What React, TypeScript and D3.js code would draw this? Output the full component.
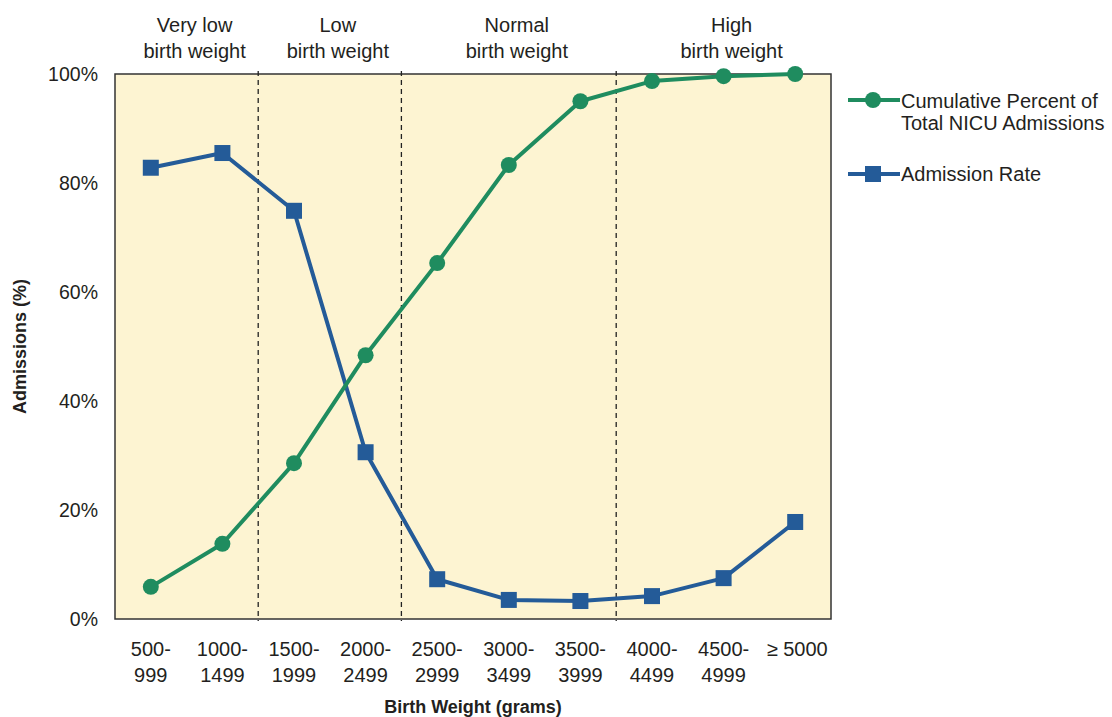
import React from "react";
import * as d3 from "d3";

const categories = ["500-|999", "1000-|1499", "1500-|1999", "2000-|2499", "2500-|2999", "3000-|3499", "3500-|3999", "4000-|4499", "4500-|4999", "≥ 5000"];
const cumulativePercent = [5.9, 13.8, 28.6, 48.4, 65.3, 83.3, 95.0, 98.7, 99.6, 100];
const admissionRate = [82.8, 85.5, 74.9, 30.6, 7.3, 3.5, 3.3, 4.2, 7.5, 17.8];
const yTicks = [0, 20, 40, 60, 80, 100];
const groups = [
  { label: ["Very low", "birth weight"], from: 0, to: 1 },
  { label: ["Low", "birth weight"], from: 2, to: 3 },
  { label: ["Normal", "birth weight"], from: 4, to: 6 },
  { label: ["High", "birth weight"], from: 7, to: 9 },
];

const GREEN = "#1f8c5f";
const BLUE = "#245b98";
const TEXT = "#231f20";
const FONT = "'Liberation Sans', Arial, Helvetica, sans-serif";

export default function App() {
  const W = 1112, H = 717;
  const left = 115, right = 831, top = 74, bottom = 619;
  const x = d3.scaleBand<number>().domain(d3.range(categories.length)).range([left, right]);
  const cx = (i: number) => (x(i) as number) + x.bandwidth() / 2;
  const y = d3.scaleLinear().domain([0, 100]).range([bottom, top]);
  const line = d3.line<number>().x((_, i) => cx(i)).y((d) => y(d));
  const boundaries = groups.slice(1).map((g) => x(g.from) as number);

  return (
    <svg width={W} height={H} style={{ position: "absolute", left: 0, top: 0, fontFamily: FONT }}>
      <rect x={0} y={0} width={W} height={H} fill="#ffffff" />
      <rect x={left} y={top} width={right - left} height={bottom - top} fill="#fdf4d2" stroke="#333" strokeWidth={1.5} />
      {boundaries.map((bx, i) => (
        <line key={i} x1={bx} x2={bx} y1={top - 3} y2={bottom + 2} stroke="#222" strokeWidth={1.3} strokeDasharray="5,4" />
      ))}
      {groups.map((g, i) => {
        const gx = ((x(g.from) as number) + (x(g.to) as number) + x.bandwidth()) / 2 + 8;
        return (
          <text key={i} x={gx} textAnchor="middle" fontSize={20} fill={TEXT}>
            <tspan x={gx} y={32}>{g.label[0]}</tspan>
            <tspan x={gx} y={58}>{g.label[1]}</tspan>
          </text>
        );
      })}
      {yTicks.map((t) => (
        <text key={t} x={98} y={y(t) + 7} textAnchor="end" fontSize={19.5} fill={TEXT}>{t}%</text>
      ))}
      {categories.map((c, i) => {
        const parts = c.split("|");
        return (
          <text key={i} textAnchor="middle" fontSize={20} fill={TEXT}>
            {parts.map((p, j) => (
              <tspan key={j} x={cx(i) + (parts.length === 1 ? 2 : 0)} y={656 + j * 26}>{p}</tspan>
            ))}
          </text>
        );
      })}
      <text x={(left + right) / 2} y={713} textAnchor="middle" fontSize={18} fontWeight="bold" fill={TEXT}>Birth Weight (grams)</text>
      <text transform={`translate(26,${(top + bottom) / 2}) rotate(-90)`} textAnchor="middle" fontSize={18} fontWeight="bold" fill={TEXT}>Admissions (%)</text>

      <path d={line(admissionRate) || ""} fill="none" stroke={BLUE} strokeWidth={4} strokeLinejoin="round" />
      {admissionRate.map((v, i) => (
        <rect key={i} x={cx(i) - 8} y={y(v) - 8} width={16} height={16} fill={BLUE} />
      ))}
      <path d={line(cumulativePercent) || ""} fill="none" stroke={GREEN} strokeWidth={4} strokeLinejoin="round" />
      {cumulativePercent.map((v, i) => (
        <circle key={i} cx={cx(i)} cy={y(v)} r={8} fill={GREEN} />
      ))}

      <line x1={848} x2={900} y1={100} y2={100} stroke={GREEN} strokeWidth={4} />
      <circle cx={873} cy={100} r={8} fill={GREEN} />
      <text fontSize={20} fill={TEXT}>
        <tspan x={901} y={108}>Cumulative Percent of</tspan>
        <tspan x={901} y={130}>Total NICU Admissions</tspan>
      </text>
      <line x1={848} x2={900} y1={174} y2={174} stroke={BLUE} strokeWidth={4} />
      <rect x={865} y={166} width={16} height={16} fill={BLUE} />
      <text x={901} y={181} fontSize={20} fill={TEXT}>Admission Rate</text>
    </svg>
  );
}
